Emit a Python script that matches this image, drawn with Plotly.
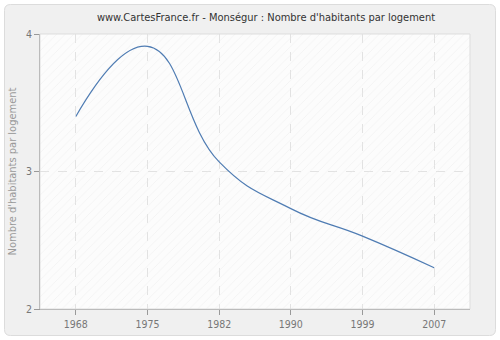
import plotly.graph_objects as go

# Nombre d'habitants par logement, Monségur
years = ["1968", "1975", "1982", "1990", "1999", "2007"]
values = [3.40, 3.91, 3.07, 2.73, 2.53, 2.30]
y_ticks = [2, 3, 4]

W, H = 500, 340
L, R, T, B = 40, 30, 34, 31
FONT = "DejaVu Sans Condensed, DejaVu Sans"

fig = go.Figure()

# hatched plot background on the base (hidden) axes
fig.add_trace(go.Scatter(
    x=[0, 1, 1, 0, 0], y=[0, 0, 1, 1, 0],
    xaxis="x", yaxis="y",
    mode="lines", line=dict(width=0),
    fill="toself", fillcolor="rgba(0,0,0,0)",
    fillpattern=dict(shape="/", fgcolor="#ebebeb", bgcolor="rgba(0,0,0,0)",
                     size=6, solidity=0.15),
    hoverinfo="skip", showlegend=False,
))

# data series on the visible overlay axes
fig.add_trace(go.Scatter(
    x=years, y=values,
    xaxis="x2", yaxis="y2",
    mode="lines",
    line=dict(color="#4f7cb3", width=1.2, shape="spline", smoothing=1.3),
    showlegend=False,
))

def px_x(p):
    return (p - L) / (W - L - R)

def px_y(p):
    return 1 - (p - T) / (H - T - B)

# rounded card behind the chart
x0, y0, x1, y1, r = 4.5, 4.5, 495.5, 335.5, 6
path = (f"M {px_x(x0 + r)} {px_y(y0)} L {px_x(x1 - r)} {px_y(y0)} "
        f"Q {px_x(x1)} {px_y(y0)} {px_x(x1)} {px_y(y0 + r)} "
        f"L {px_x(x1)} {px_y(y1 - r)} Q {px_x(x1)} {px_y(y1)} {px_x(x1 - r)} {px_y(y1)} "
        f"L {px_x(x0 + r)} {px_y(y1)} Q {px_x(x0)} {px_y(y1)} {px_x(x0)} {px_y(y1 - r)} "
        f"L {px_x(x0)} {px_y(y0 + r)} Q {px_x(x0)} {px_y(y0)} {px_x(x0 + r)} {px_y(y0)} Z")

shapes = [
    dict(type="path", path=path, xref="paper", yref="paper",
         fillcolor="#f0f0f0", line=dict(color="#dcdcdc", width=1), layer="below"),
    dict(type="rect", xref="paper", yref="paper", x0=0, y0=0, x1=1, y1=1,
         fillcolor="#fcfcfc", line=dict(width=0), layer="below"),
    dict(type="rect", xref="paper", yref="paper", x0=0, y0=0, x1=1, y1=1,
         line=dict(color="#dddddd", width=1), fillcolor="rgba(0,0,0,0)", layer="above"),
]

axis_common = dict(
    showgrid=True, gridcolor="#e2e2e2", griddash="dash", gridwidth=1,
    showline=True, linecolor="#999999", linewidth=1,
    ticks="outside", ticklen=5, tickcolor="#999999",
    tickfont=dict(size=10.5, color="#777777", family=FONT),
    zeroline=False, fixedrange=True, automargin=False,
)

fig.update_layout(
    width=W, height=H,
    margin=dict(l=L, r=R, t=T, b=B),
    paper_bgcolor="#ffffff",
    plot_bgcolor="rgba(0,0,0,0)",
    font=dict(family=FONT, color="#777777", size=11),
    title=dict(text="www.CartesFrance.fr - Monségur : Nombre d'habitants par logement",
               x=266 / W, xref="container", xanchor="center",
               y=1 - 17 / H, yref="container", yanchor="middle",
               font=dict(size=11, color="#333333", family=FONT)),
    shapes=shapes,
    xaxis=dict(range=[0, 1], visible=False, fixedrange=True, automargin=False),
    yaxis=dict(range=[0, 1], visible=False, fixedrange=True, automargin=False),
    xaxis2=dict(
        overlaying="x", anchor="y2",
        type="category", categoryorder="array", categoryarray=years,
        range=[-0.5, 5.5], **axis_common,
    ),
    yaxis2=dict(
        overlaying="y", anchor="x2", side="left",
        range=[2, 4], tickvals=y_ticks, ticktext=[str(v) for v in y_ticks],
        title=dict(text="Nombre d'habitants par logement",
                   font=dict(size=11, color="#999999", family=FONT), standoff=7),
        **axis_common,
    ),
)

fig.write_html("out.html")
